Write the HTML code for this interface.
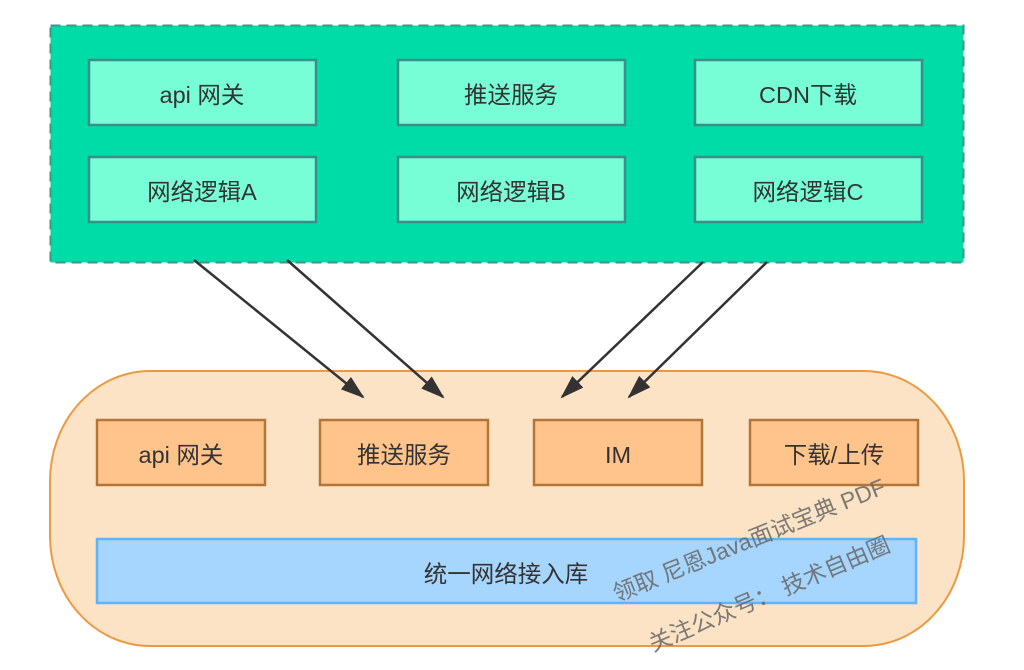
<!DOCTYPE html>
<html><head><meta charset="utf-8"><style>
html,body{margin:0;padding:0;background:#fff;width:1024px;height:670px;overflow:hidden}
text{font-family:"Liberation Sans","Noto Sans CJK SC",sans-serif;}
</style></head><body>
<svg width="1024" height="670" viewBox="0 0 1024 670" xmlns="http://www.w3.org/2000/svg">
<defs>
<marker id="ah2" markerWidth="24" markerHeight="16" refX="22" refY="8" orient="auto" markerUnits="userSpaceOnUse" viewBox="0 0 24 16">
<path d="M0,0 L24,8 L0,16 Z" fill="#333"/>
</marker>
</defs>
<rect x="50.5" y="25.5" width="913" height="237" fill="#00dca8" stroke="#3f938b" stroke-width="2" stroke-dasharray="10,6"/>
<g fill="#78fed7" stroke="#3a8f87" stroke-width="2.5">
<rect x="89" y="60" width="227" height="65"/>
<rect x="398" y="60" width="227" height="65"/>
<rect x="695" y="60" width="227" height="65"/>
<rect x="89" y="157" width="227" height="65"/>
<rect x="398" y="157" width="227" height="65"/>
<rect x="695" y="157" width="227" height="65"/>
</g>
<g font-size="23.5" fill="#333" text-anchor="middle">
<text x="202" y="103">api 网关</text>
<text x="511" y="103">推送服务</text>
<text x="808" y="103">CDN下载</text>
<text x="202" y="200">网络逻辑A</text>
<text x="511" y="200">网络逻辑B</text>
<text x="808" y="200">网络逻辑C</text>
</g>
<rect x="50" y="371" width="914" height="275" rx="100" ry="110" fill="#fde3c5" stroke="#ec9a42" stroke-width="2"/>
<g stroke="#333" stroke-width="2.5" marker-end="url(#ah2)">
<line x1="194" y1="260" x2="363" y2="397"/>
<line x1="287" y1="260" x2="443" y2="397"/>
<line x1="703" y1="262" x2="562" y2="397"/>
<line x1="767" y1="262" x2="629" y2="397"/>
</g>
<g fill="#ffc48b" stroke="#b2763a" stroke-width="2.5">
<rect x="97" y="420" width="168" height="65"/>
<rect x="320" y="420" width="168" height="65"/>
<rect x="534" y="420" width="168" height="65"/>
<rect x="750" y="420" width="168" height="65"/>
</g>
<g font-size="23.5" fill="#333" text-anchor="middle">
<text x="181" y="463">api 网关</text>
<text x="404" y="463">推送服务</text>
<text x="618" y="463">IM</text>
<text x="834" y="463">下载/上传</text>
</g>
<rect x="97" y="539" width="819" height="64" fill="#a6d5fd" stroke="#5fb4fb" stroke-width="2.5"/>
<text x="506" y="582" font-size="23.5" fill="#333" text-anchor="middle">统一网络接入库</text>
<g font-size="23" fill="#666" fill-opacity="0.85">
<text x="617" y="602" transform="rotate(-22 617 602)">领取 尼恩Java面试宝典 PDF</text>
<text x="653" y="652" transform="rotate(-23 653 652)">关注公众号：  技术自由圈</text>
</g>
</svg>
</body></html>
